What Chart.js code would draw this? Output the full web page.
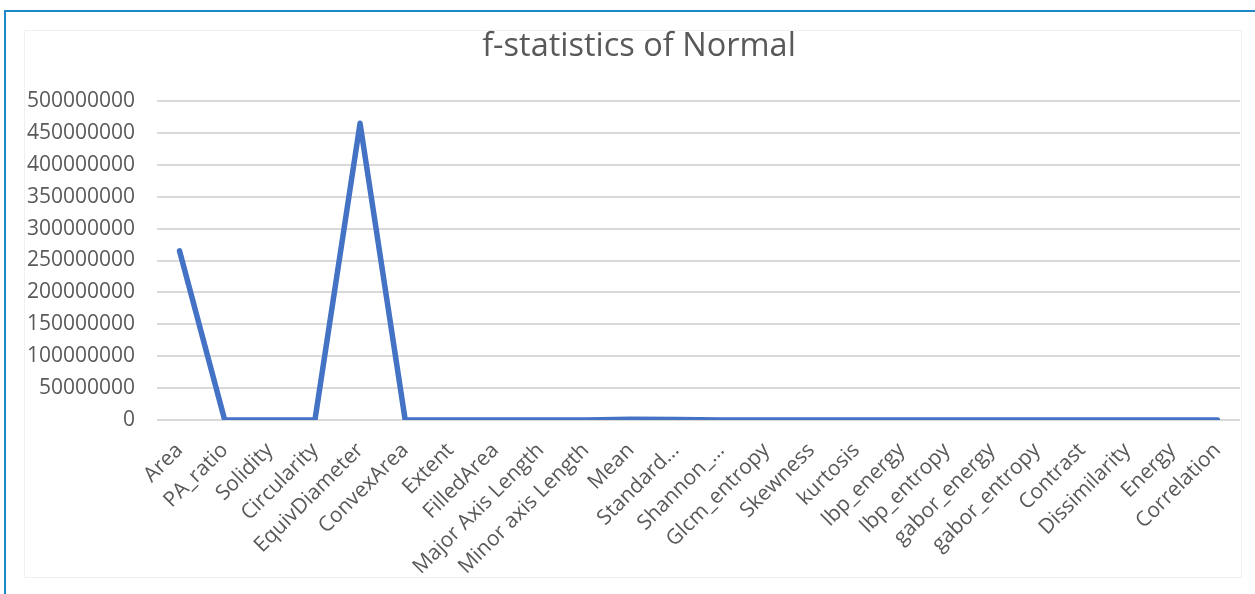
<!DOCTYPE html>
<html>
<head>
<meta charset="utf-8">
<script src="https://cdn.jsdelivr.net/npm/chart.js@4"></script>
<style>
  html, body { margin: 0; padding: 0; background: #fff; }
  #wrap { position: relative; width: 1255px; height: 594px; overflow: hidden; }
  #frame { position: absolute; left: 4px; top: 10px; right: 0; bottom: -4px;
           border-top: 2px solid #1a88c9; border-left: 2px solid #1a88c9; }
  #box { position: absolute; left: 24px; top: 30px; width: 1216px; height: 546px;
         border: 1px solid #f0f0f0; }
  canvas { position: absolute; left: 0; top: 0; }
</style>
</head>
<body>
<div id="wrap">
  <div id="frame"></div>
  <div id="box"></div>
  <canvas id="fstat" width="1255" height="594"></canvas>
</div>
<script>
const features = ['Area', 'PA_ratio', 'Solidity', 'Circularity', 'EquivDiameter', 'ConvexArea',
  'Extent', 'FilledArea', 'Major Axis Length', 'Minor axis Length', 'Mean', 'Standard\u2026',
  'Shannon_\u2026', 'Glcm_entropy', 'Skewness', 'kurtosis', 'lbp_energy', 'lbp_entropy',
  'gabor_energy', 'gabor_entropy', 'Contrast', 'Dissimilarity', 'Energy', 'Correlation'];
const fValues = [265000000, 0, 0, 0, 465000000, 0,
  0, 0, 0, 0, 1200000, 800000,
  0, 0, 0, 0, 0, 0,
  0, 0, 0, 0, 0, 0];
const yMax = 500000000;
const yStep = 50000000;
const chartTitle = 'f-statistics of Normal';

const grey = '#595959';
const fontFamily = '"Open Sans", "DejaVu Sans", sans-serif';

// title centred over the inner box rather than the chart's box
const boxTitle = {
  id: 'boxTitle',
  afterDraw(chart) {
    const c = chart.ctx;
    c.save();
    c.fillStyle = grey;
    c.font = '32.5px ' + fontFamily;
    c.textAlign = 'center';
    c.textBaseline = 'middle';
    c.fillText(chartTitle, 639, 47);
    c.restore();
  }
};

const ctx = document.getElementById('fstat').getContext('2d');

new Chart(ctx, {
  type: 'line',
  data: {
    labels: features,
    datasets: [{
      label: 'f-statistics',
      data: fValues,
      borderColor: '#4472c4',
      borderWidth: 5.5,
      borderCapStyle: 'round',
      borderJoinStyle: 'round',
      fill: false,
      tension: 0,
      pointRadius: 0,
    }]
  },
  plugins: [boxTitle],
  options: {
    responsive: false,
    animation: false,
    layout: {
      padding: { left: 0, top: 101, right: 15, bottom: 0 }
    },
    plugins: {
      legend: { display: false },
      tooltip: { enabled: false },
      title: { display: false }
    },
    scales: {
      x: {
        offset: true,
        grid: { display: false },
        border: { display: false },
        ticks: {
          autoSkip: false,
          maxRotation: 45,
          minRotation: 45,
          padding: 10,
          color: grey,
          font: { family: fontFamily, size: 21 }
        },
        afterFit: (scale) => { scale.height = 174; }
      },
      y: {
        min: 0,
        max: yMax,
        border: { display: false },
        grid: { color: '#d9d9d9', lineWidth: 2, drawTicks: false },
        ticks: {
          stepSize: yStep,
          padding: 22,
          color: grey,
          font: { family: fontFamily, size: 21 },
          callback: (v) => String(v)
        },
        afterFit: (scale) => { scale.width = 157; }
      }
    }
  }
});
</script>
</body>
</html>
